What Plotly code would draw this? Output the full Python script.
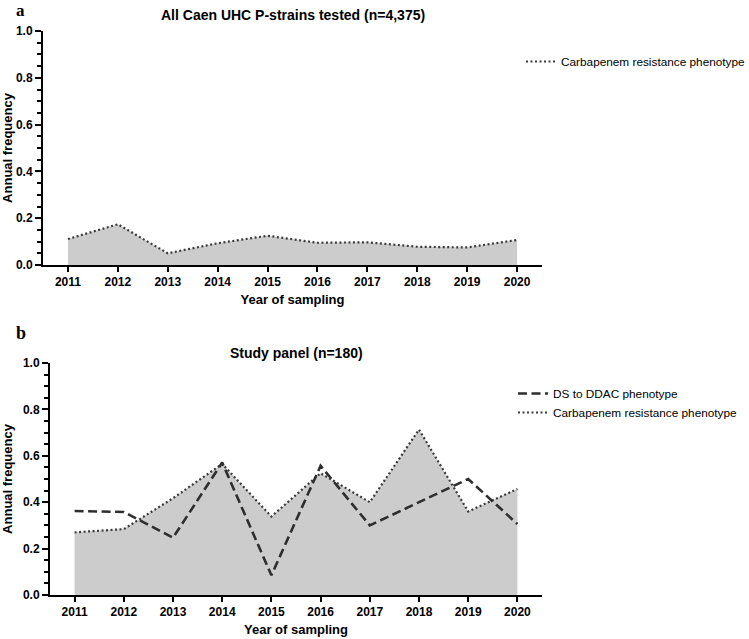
import plotly.graph_objects as go

years = [2011, 2012, 2013, 2014, 2015, 2016, 2017, 2018, 2019, 2020]
carb_all = [0.111, 0.174, 0.050, 0.093, 0.125, 0.095, 0.097, 0.078, 0.075, 0.107]
carb_panel = [0.270, 0.284, 0.417, 0.565, 0.338, 0.525, 0.400, 0.713, 0.360, 0.457]
ds_ddac = [0.362, 0.358, 0.247, 0.571, 0.085, 0.557, 0.300, 0.400, 0.500, 0.306]

title_a = "All Caen UHC P-strains tested (n=4,375)"
title_b = "Study panel (n=180)"
x_title = "Year of sampling"
y_title = "Annual frequency"

W, H = 749, 639
FONT = "Liberation Sans, Arial, sans-serif"
FILL = "#cccccc"
DOT = dict(color="#3a3a3a", width=2.2, dash="2px,2.5px")
DASH = dict(color="#2e2e2e", width=2.6, dash="9px,4.5px")

fig = go.Figure()

# Panel a: fill area, then dotted line
fig.add_trace(go.Scatter(
    x=years, y=carb_all, mode="lines", line=dict(width=0, color=FILL),
    fill="tozeroy", fillcolor=FILL, xaxis="x", yaxis="y", showlegend=False, hoverinfo="skip",
))
fig.add_trace(go.Scatter(
    x=years, y=carb_all, mode="lines", name="Carbapenem resistance phenotype",
    line=DOT, xaxis="x", yaxis="y", legend="legend",
))

# Panel b
fig.add_trace(go.Scatter(
    x=years, y=carb_panel, mode="lines", line=dict(width=0, color=FILL),
    fill="tozeroy", fillcolor=FILL, xaxis="x2", yaxis="y2", showlegend=False, hoverinfo="skip",
))
fig.add_trace(go.Scatter(
    x=years, y=carb_panel, mode="lines", name="Carbapenem resistance phenotype",
    line=DOT, xaxis="x2", yaxis="y2", legend="legend2", legendrank=2,
))
fig.add_trace(go.Scatter(
    x=years, y=ds_ddac, mode="lines", name="DS to DDAC phenotype",
    line=DASH, xaxis="x2", yaxis="y2", legend="legend2", legendrank=1,
))

def px_x(p):
    return p / W

def px_y(p):
    return 1 - p / H

xa = dict(
    range=[2010.5, 2020.5], tickmode="array", tickvals=years,
    ticktext=[str(y) for y in years],
    showline=True, linecolor="black", linewidth=2,
    ticks="outside", ticklen=5, tickwidth=2, tickcolor="black",
    showgrid=False, zeroline=False,
    tickfont=dict(family=FONT, size=12, color="black", weight="bold"),
    title=dict(text="<b>" + x_title + "</b>", font=dict(family=FONT, size=13, color="black"), standoff=6),
)
ya = dict(
    range=[0, 1], tickmode="array", tickvals=[0, 0.2, 0.4, 0.6, 0.8, 1.0],
    ticktext=["0.0", "0.2", "0.4", "0.6", "0.8", "1.0"],
    showline=True, linecolor="black", linewidth=2,
    ticks="outside", ticklen=6, tickwidth=2, tickcolor="black",
    minor=dict(dtick=0.05, tick0=0, ticks="outside", ticklen=4, tickwidth=2, tickcolor="black", showgrid=False),
    showgrid=False, zeroline=False,
    tickfont=dict(family=FONT, size=12, color="black", weight="bold"),
    title=dict(text="<b>" + y_title + "</b>", font=dict(family=FONT, size=13, color="black"), standoff=10),
)

fig.update_layout(
    width=W, height=H,
    margin=dict(l=0, r=0, t=0, b=0, autoexpand=False),
    paper_bgcolor="white", plot_bgcolor="white",
    xaxis=dict(xa, domain=[px_x(43), px_x(542)], anchor="y"),
    yaxis=dict(ya, domain=[px_y(265), px_y(31)], anchor="x"),
    xaxis2=dict(xa, domain=[px_x(50), px_x(542)], anchor="y2"),
    yaxis2=dict(ya, domain=[px_y(595), px_y(363)], anchor="x2"),
    legend=dict(x=px_x(521), y=px_y(47), xanchor="left", yanchor="top",
                font=dict(family=FONT, size=11.8, color="black"),
                bgcolor="rgba(0,0,0,0)", itemwidth=30, tracegroupgap=0),
    legend2=dict(x=px_x(513), y=px_y(379), xanchor="left", yanchor="top",
                 font=dict(family=FONT, size=11.8, color="black"),
                 bgcolor="rgba(0,0,0,0)", itemwidth=30, tracegroupgap=0),
    showlegend=True,
    annotations=[
        dict(text="<b>" + title_a + "</b>", x=px_x(292.5), y=px_y(15), xref="paper", yref="paper",
             showarrow=False, xanchor="center", yanchor="middle",
             font=dict(family=FONT, size=14, color="black")),
        dict(text="<b>" + title_b + "</b>", x=px_x(296), y=px_y(353), xref="paper", yref="paper",
             showarrow=False, xanchor="center", yanchor="middle",
             font=dict(family=FONT, size=14, color="black")),
        dict(text="<b>a</b>", x=px_x(14), y=px_y(10), xref="paper", yref="paper",
             showarrow=False, xanchor="left", yanchor="middle",
             font=dict(family="Liberation Serif, Times New Roman, serif", size=17, color="black")),
        dict(text="<b>b</b>", x=px_x(14), y=px_y(333), xref="paper", yref="paper",
             showarrow=False, xanchor="left", yanchor="middle",
             font=dict(family="Liberation Serif, Times New Roman, serif", size=18, color="black")),
    ],
)

fig.write_html(
    "out.html",
    config={"displayModeBar": False},
    post_script="document.body.style.margin='0';document.body.style.padding='0';document.body.style.overflow='hidden';",
)
